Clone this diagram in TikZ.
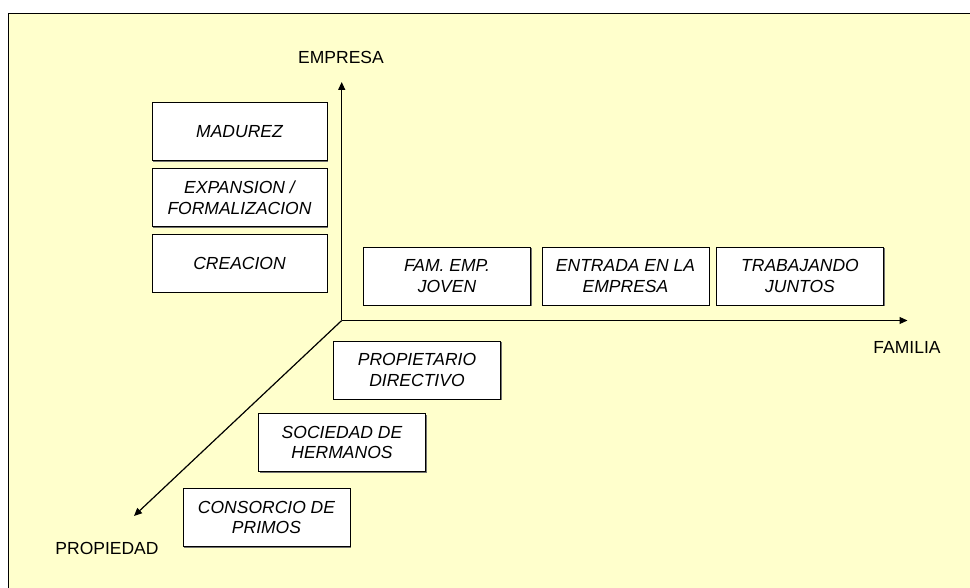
\documentclass[tikz,border=0pt]{standalone}
\usepackage{fontspec}
\setmainfont{Liberation Sans}
\usetikzlibrary{arrows.meta,shadows}
\definecolor{bgyellow}{HTML}{FFFFCC}
\begin{document}
\begin{tikzpicture}[x=1pt,y=-1pt,
  stagebox/.style={draw=black, line width=0.8pt, fill=white, minimum width=167pt, minimum height=58pt,
    align=center, inner sep=0pt, font=\itshape\fontsize{17.5}{20.5}\selectfont,
    drop shadow={shadow xshift=1.3pt, shadow yshift=-1.3pt, fill=black!55, opacity=1}},
  widebox/.style={stagebox, minimum width=175pt},
  axislabel/.style={font=\fontsize{17.5}{20.5}\selectfont, inner sep=0pt},
  axis/.style={line width=1.2pt, -{Triangle[length=8pt,width=7pt]}}]
\useasboundingbox (0,0) rectangle (970,588);
\fill[bgyellow] (8,14) rectangle (970,588);
\draw[line width=1pt] (8,588) -- (8,14) -- (970,14);

\coordinate (O) at (341.7,320.5);
\coordinate (ytip) at (341.7,82);
\coordinate (xtip) at (907.5,320.5);
\coordinate (ztip) at (134,516);

\draw[axis] (O) -- (ytip);
\draw[axis] (O) -- (xtip);
\draw[axis] (O) -- (ztip);

\node[axislabel] (empresa) at (341,57) {EMPRESA};
\node[axislabel] (familia) at (907,347) {FAMILIA};
\node[axislabel] (propiedad) at (107,548) {PROPIEDAD};

\node[widebox] (madurez) at (239.5,131.5) {MADUREZ};
\node[widebox] (expansion) at (239.5,197.5) {EXPANSION /\\FORMALIZACION};
\node[widebox] (creacion) at (239.5,263) {CREACION};

\node[stagebox] (famemp) at (447,276) {FAM. EMP.\\JOVEN};
\node[stagebox] (entrada) at (625.5,276) {ENTRADA EN LA\\EMPRESA};
\node[stagebox] (trabajando) at (800,276) {TRABAJANDO\\JUNTOS};

\node[stagebox] (propietario) at (417,370) {PROPIETARIO\\DIRECTIVO};
\node[stagebox] (sociedad) at (342,442.5) {SOCIEDAD DE\\HERMANOS};
\node[stagebox] (consorcio) at (266.5,517.5) {CONSORCIO DE\\PRIMOS};
\end{tikzpicture}
\end{document}
